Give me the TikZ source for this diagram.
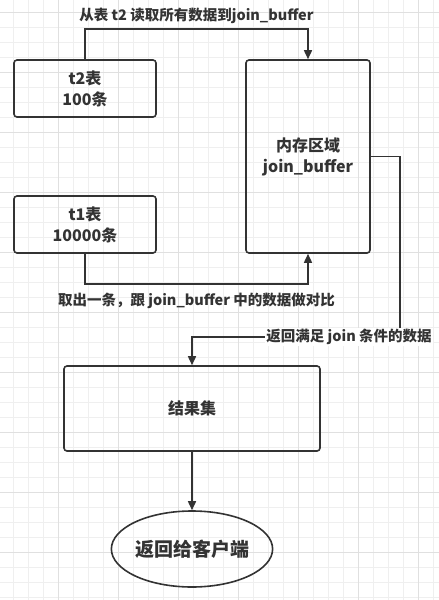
\documentclass[tikz,border=0pt]{standalone}
\usepackage{fontspec}
\setmainfont{Noto Sans CJK SC}
\usetikzlibrary{positioning,shapes.geometric,arrows.meta}

\definecolor{ink}{HTML}{333333}
\definecolor{gridminor}{HTML}{EFEFEF}
\definecolor{gridmajor}{HTML}{E0E0E0}

\begin{document}
\begin{tikzpicture}[x=1pt,y=-1pt,
  box/.style={draw=ink,line width=1.6pt,rounded corners=3pt,text=ink,
    font=\fontsize{16}{21}\selectfont\bfseries,align=center,inner sep=0pt},
  oval/.style={draw=ink,line width=1.6pt,ellipse,text=ink,
    font=\fontsize{19}{22}\selectfont\bfseries,inner sep=0pt},
  lbl/.style={text=ink,font=\fontsize{14.5}{18}\selectfont\bfseries},
  arr/.style={draw=ink,line width=1.6pt,-{Triangle[length=9pt,width=8pt]}}]

\useasboundingbox (0,0) rectangle (439,600);

% grid
\foreach \gx in {13.3,28.3,...,433.3}
  \draw[gridminor,line width=0.8pt] (\gx,0) -- (\gx,600);
\foreach \gy in {12.3,27.3,...,597.3}
  \draw[gridminor,line width=0.8pt] (0,\gy) -- (439,\gy);
\foreach \gx in {58.3,118.3,...,418.3}
  \draw[gridmajor,line width=0.8pt] (\gx,0) -- (\gx,600);
\foreach \gy in {12.3,72.3,...,552.3}
  \draw[gridmajor,line width=0.8pt] (0,\gy) -- (439,\gy);

% nodes
\node[box,minimum width=142pt,minimum height=57pt] (t2) at (85,88.5) {t2表\\100条};
\node[box,minimum width=142pt,minimum height=57pt] (t1) at (85,224.5) {t1表\\10000条};
\node[box,minimum width=124pt,minimum height=193pt] (mem) at (308,156.5) {内存区域\\join\_buffer};
\node[box,minimum width=256pt,minimum height=85pt] (res) at (192,408.5) {结果集};
\node[oval,minimum width=160pt,minimum height=76pt] (client) at (192,549) {返回给客户端};
\coordinate (turn) at (400,337);

% arrows
\draw[arr] (t2.north) -- ++(0,-30) -| node[lbl,pos=0.25,above=1pt] {从表 t2 读取所有数据到join\_buffer} (mem.north);
\draw[arr] (t1.south) -- ++(0,30) -| node[lbl,pos=0.25,below=5pt] {取出一条，跟 join\_buffer 中的数据做对比} (mem.south);
\draw[arr] (mem.east) -| (turn) -| (res.north);
\node[lbl,fill=white,inner sep=1pt] (back) at (349,337) {返回满足 join 条件的数据};
\draw[arr] (res.south) -- (client.north);

\end{tikzpicture}
\end{document}
